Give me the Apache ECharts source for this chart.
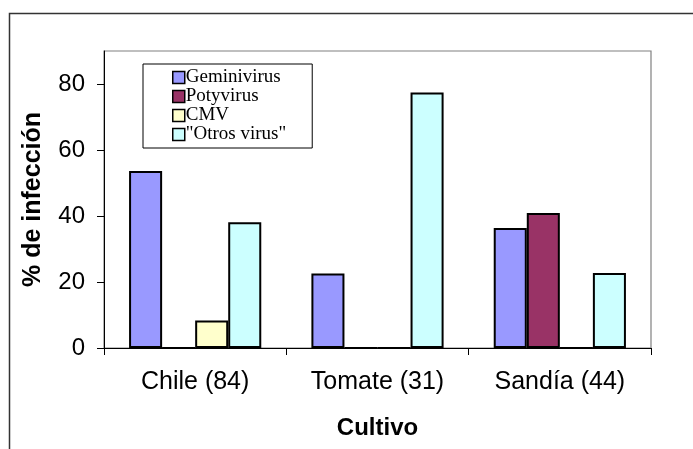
<!DOCTYPE html>
<html>
<head>
<meta charset="utf-8">
<script src="https://cdn.jsdelivr.net/npm/echarts@6/dist/echarts.min.js"></script>
<style>
  html, body { margin: 0; padding: 0; background: #fff; }
  #chart { width: 693px; height: 449px; }
</style>
</head>
<body>
<div id="chart"></div>
<script>
// Infection percentage by crop (sample size in parentheses)
const categories = ['Chile (84)', 'Tomate (31)', 'Sandía (44)'];
const seriesNames = ['Geminivirus', 'Potyvirus', 'CMV', '"Otros virus"'];
const geminivirus = [53.6, 22.6, 36.4];
const potyvirus = [0, 0, 40.9];
const cmv = [8.3, 0, 0];
const otrosVirus = [38.1, 77.4, 22.7];
const yTicks = [0, 20, 40, 60, 80];

const seriesValues = [geminivirus, potyvirus, cmv, otrosVirus];
const colors = ['#9999FF', '#993366', '#FFFFCC', '#CCFFFF'];

const chart = echarts.init(document.getElementById('chart'), null, { renderer: 'canvas' });

chart.setOption({
  animation: false,
  backgroundColor: '#fff',
  graphic: [{
    type: 'rect',
    left: 7, top: 11,
    shape: { width: 700, height: 460 },
    style: { fill: 'none', stroke: '#333', lineWidth: 1.5 },
    silent: true,
    z: 0
  }],
  grid: {
    left: 104, right: 42, top: 51, bottom: 101,
    show: true,
    borderColor: '#808080',
    borderWidth: 1.2
  },
  legend: {
    orient: 'vertical',
    left: 143, top: 64,
    padding: [4, 26, 4, 29],
    itemGap: 0,
    itemWidth: 12,
    itemHeight: 12,
    icon: 'rect',
    borderColor: '#000',
    borderWidth: 1,
    backgroundColor: '#fff',
    itemStyle: { borderColor: '#000', borderWidth: 1.5 },
    textStyle: {
      fontFamily: 'Liberation Serif',
      fontSize: 19,
      lineHeight: 18,
      color: '#000',
      padding: [0, 0, 0, -4]
    },
    data: seriesNames
  },
  xAxis: {
    type: 'category',
    data: categories,
    name: 'Cultivo',
    nameLocation: 'middle',
    nameGap: 68,
    nameTextStyle: { fontFamily: 'Liberation Sans', fontWeight: 'bold', fontSize: 24, color: '#000' },
    axisLine: { lineStyle: { color: '#000', width: 1 } },
    axisTick: { show: true, length: 7, lineStyle: { color: '#000' } },
    axisLabel: { margin: 22, fontFamily: 'Liberation Sans', fontSize: 25, color: '#000' }
  },
  yAxis: {
    type: 'value',
    min: 0, max: 90, interval: 20,
    name: '% de infección',
    nameLocation: 'middle',
    nameGap: 58,
    nameTextStyle: { fontFamily: 'Liberation Sans', fontWeight: 'bold', fontSize: 25, color: '#000' },
    axisLine: { show: true, lineStyle: { color: '#000', width: 1 } },
    axisTick: { show: true, length: 7, lineStyle: { color: '#000' }, customValues: yTicks },
    axisLabel: { margin: 19, fontFamily: 'Liberation Sans', fontSize: 24, color: '#000', customValues: yTicks },
    splitLine: { show: false }
  },
  series: seriesNames.map((name, i) => ({
    name: name,
    type: 'bar',
    data: seriesValues[i],
    barGap: '0%',
    barCategoryGap: '27.5%',
    itemStyle: { color: colors[i], borderColor: '#000', borderWidth: 2 }
  }))
});
</script>
</body>
</html>
